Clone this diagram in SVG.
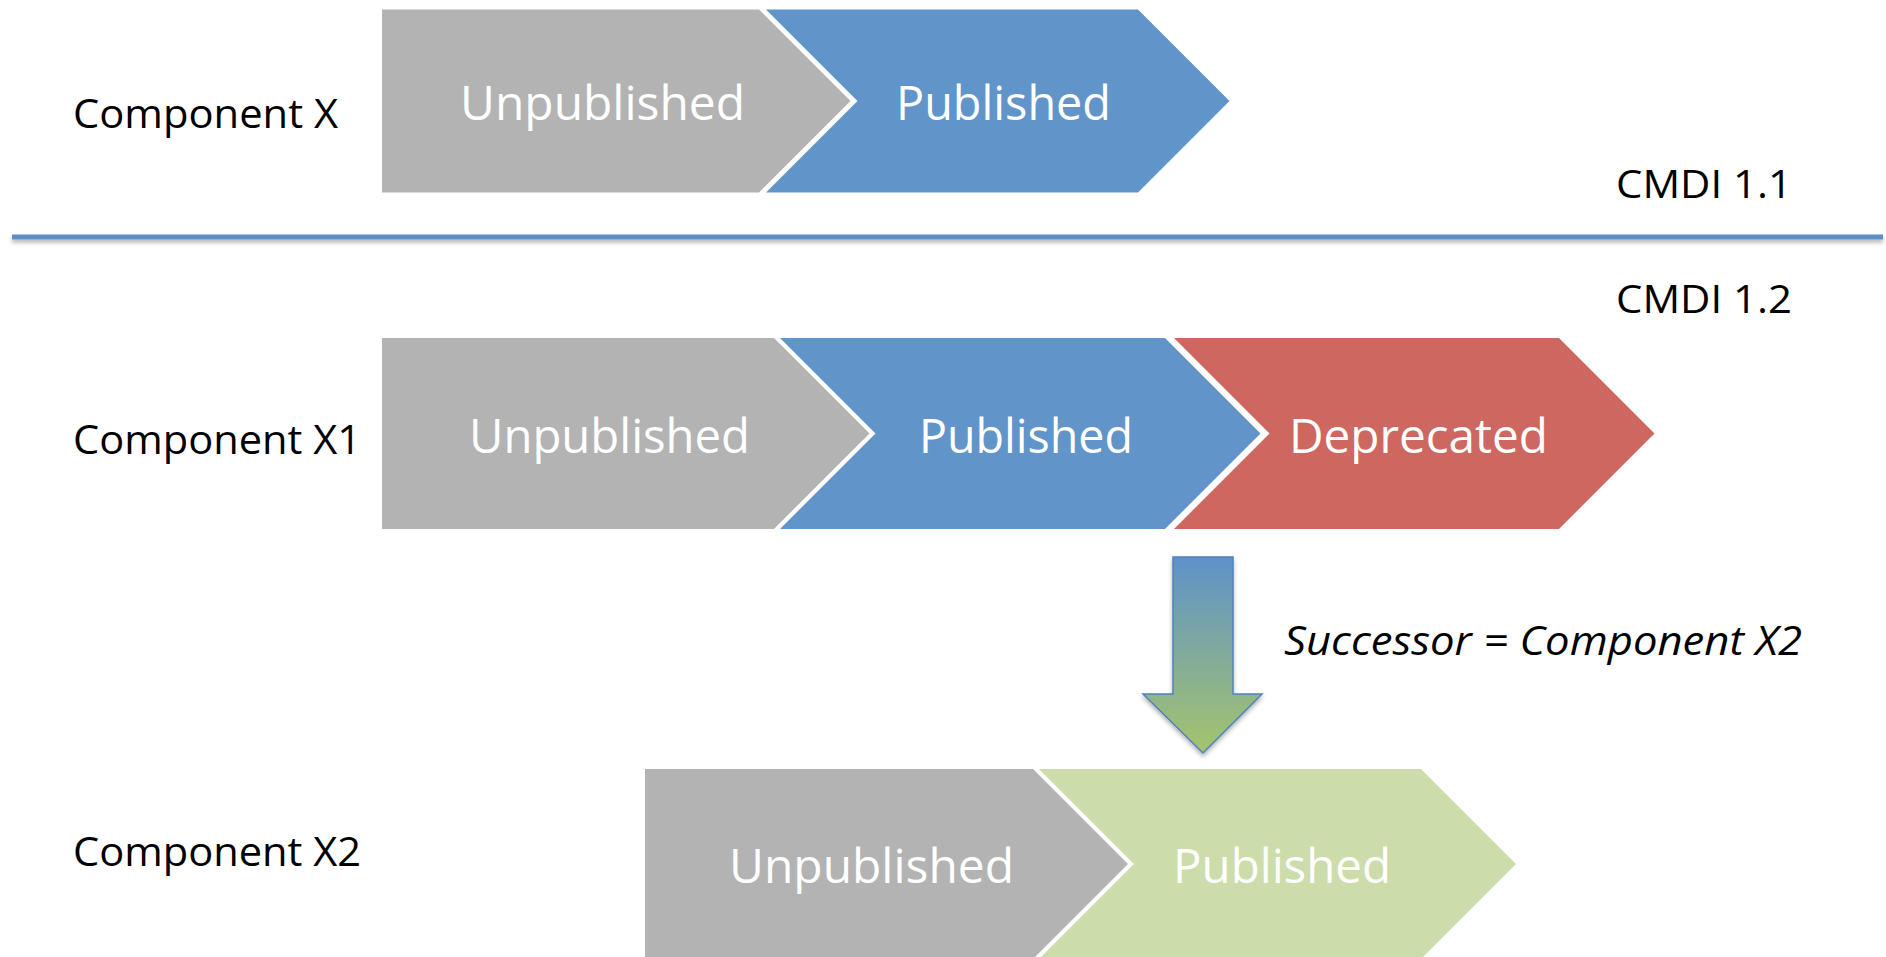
<svg xmlns="http://www.w3.org/2000/svg" width="1886" height="957" viewBox="0 0 1886 957">
  <style>
    .lbl { font-family: "Open Sans", "Noto Sans", sans-serif; fill: #000; }
    .ct { font-family: "Open Sans", "Noto Sans", sans-serif; font-size: 48px; fill: #fff; text-anchor: middle; }
    .gray { fill: #b3b3b3; }
    .blue { fill: #6195c9; }
    .red { fill: #cd6760; }
    .green { fill: #cddcab; }
  </style>
  <defs>
    <linearGradient id="arrowGrad" x1="0" y1="0" x2="0" y2="1">
      <stop offset="0" stop-color="#5e92c9"/>
      <stop offset="1" stop-color="#a5c46c"/>
    </linearGradient>
    <filter id="shadow" filterUnits="userSpaceOnUse" x="0" y="0" width="1886" height="957">
      <feDropShadow dx="0" dy="3" stdDeviation="2" flood-color="#000" flood-opacity="0.3"/>
    </filter>
  </defs>
  <rect width="1886" height="957" fill="#fff"/>

  <g id="divider">
    <rect x="12" y="234.5" width="1871" height="5" fill="#5b8fc6" filter="url(#shadow)"/>
    <text class="lbl" x="1616" y="198" font-size="38" textLength="176" lengthAdjust="spacingAndGlyphs">CMDI 1.1</text>
    <text class="lbl" x="1616" y="313" font-size="38" textLength="176" lengthAdjust="spacingAndGlyphs">CMDI 1.2</text>
  </g>

  <g id="componentX">
    <text class="lbl" x="73" y="128" font-size="41" textLength="265" lengthAdjust="spacingAndGlyphs">Component X</text>
    <g id="x-unpublished">
      <path class="gray" d="M382,9.5 H759 L850.5,101 L759,192.5 H382 Z"/>
      <text class="ct" x="602.5" y="120" textLength="285" lengthAdjust="spacingAndGlyphs">Unpublished</text>
    </g>
    <g id="x-published">
      <path class="blue" d="M766,9.5 H1138 L1229.5,101 L1138,192.5 H766 L857.5,101 Z"/>
      <text class="ct" x="1003.5" y="120" textLength="215" lengthAdjust="spacingAndGlyphs">Published</text>
    </g>
  </g>

  <g id="componentX1">
    <text class="lbl" x="73" y="454" font-size="41" textLength="288" lengthAdjust="spacingAndGlyphs">Component X1</text>
    <g id="x1-unpublished">
      <path class="gray" d="M382,338 H774 L869.5,433.5 L774,529 H382 Z"/>
      <text class="ct" x="609.5" y="453" textLength="281" lengthAdjust="spacingAndGlyphs">Unpublished</text>
    </g>
    <g id="x1-published">
      <path class="blue" d="M780,338 H1165 L1260.5,433.5 L1165,529 H780 L875.5,433.5 Z"/>
      <text class="ct" x="1026" y="453" textLength="214" lengthAdjust="spacingAndGlyphs">Published</text>
    </g>
    <g id="x1-deprecated">
      <path class="red" d="M1174,338 H1559 L1654.5,433.5 L1559,529 H1174 L1269.5,433.5 Z"/>
      <text class="ct" x="1418.5" y="453" textLength="259" lengthAdjust="spacingAndGlyphs">Deprecated</text>
    </g>
  </g>

  <g id="componentX2">
    <text class="lbl" x="73" y="866" font-size="41" textLength="288" lengthAdjust="spacingAndGlyphs">Component X2</text>
    <g id="x2-unpublished">
      <path class="gray" d="M645,769 H1033 L1128,864 L1033,959 H645 Z"/>
      <text class="ct" x="871.5" y="883" textLength="285" lengthAdjust="spacingAndGlyphs">Unpublished</text>
    </g>
    <g id="x2-published">
      <path class="green" d="M1039,769 H1421 L1516,864 L1421,959 H1039 L1134,864 Z"/>
      <text class="ct" x="1282" y="883" textLength="218" lengthAdjust="spacingAndGlyphs">Published</text>
    </g>
  </g>

  <g id="connectors">
    <path d="M1173,557 H1233 V694 H1262 L1203,753 L1143,694 H1173 Z" fill="url(#arrowGrad)" stroke="#4f81bd" stroke-width="1.5" filter="url(#shadow)"/>
    <text class="lbl" x="1284" y="655" font-size="40" font-style="italic" textLength="518" lengthAdjust="spacingAndGlyphs">Successor = Component X2</text>
  </g>
</svg>
